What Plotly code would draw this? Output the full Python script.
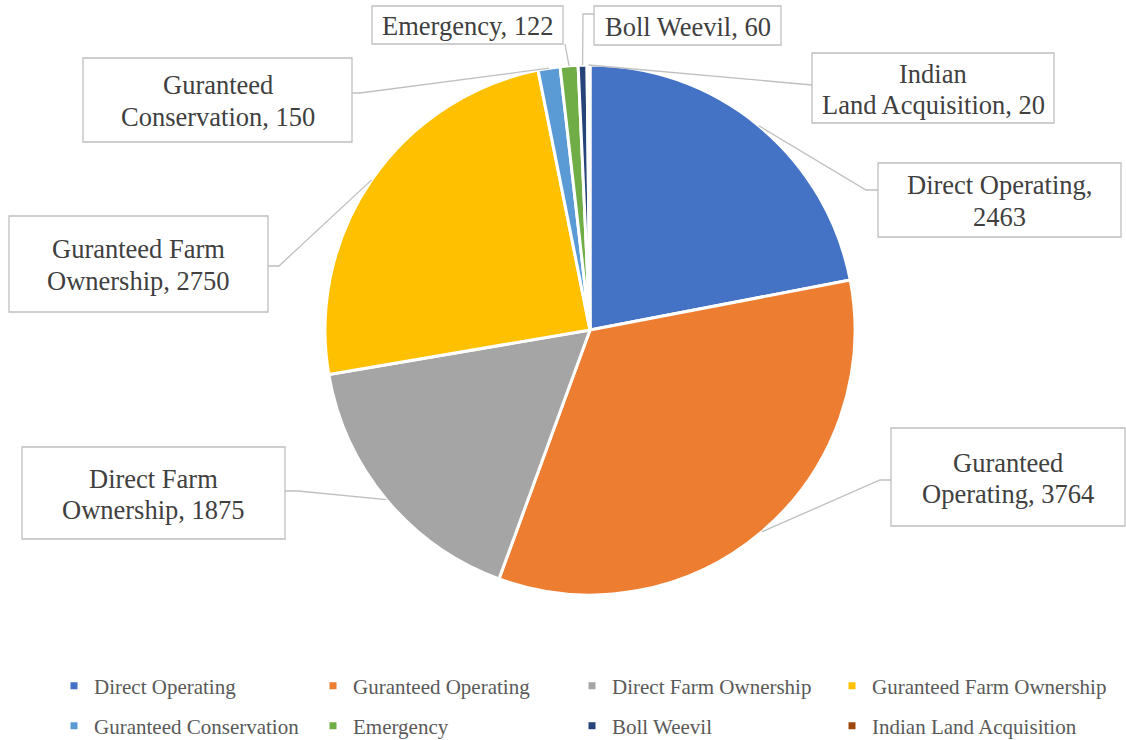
import math
import plotly.graph_objects as go

# ---- data ----
categories = ["Direct Operating", "Guranteed Operating", "Direct Farm Ownership",
              "Guranteed Farm Ownership", "Guranteed Conservation", "Emergency",
              "Boll Weevil", "Indian Land Acquisition"]
values = [2463, 3764, 1875, 2750, 150, 122, 60, 20]
label_lines = [
    ["Direct Operating,", "2463"],
    ["Guranteed", "Operating, 3764"],
    ["Direct Farm", "Ownership, 1875"],
    ["Guranteed Farm", "Ownership, 2750"],
    ["Guranteed", "Conservation, 150"],
    ["Emergency, 122"],
    ["Boll Weevil, 60"],
    ["Indian", "Land Acquisition, 20"],
]
colors = ["#4472C4", "#ED7D31", "#A5A5A5", "#FFC000",
          "#5B9BD5", "#70AD47", "#264478", "#9E480E"]

# ---- layout constants (pixels) ----
W, H = 1126, 740
CX, CY, R = 590, 330, 265
# label boxes: (x0, y0, x1, y1)
boxes = [
    (878, 163, 1121, 237),
    (891, 428, 1125, 526),
    (22, 447, 285, 539),
    (9, 216, 268, 312),
    (83, 58, 352, 142),
    (372, 6, 563, 44),
    (594, 6, 781, 45),
    (812, 53, 1054, 123),
]
# leader line elbow and end points (pixels)
leaders = [
    [(866, 190), (878, 190)],
    [(880, 480), (891, 480)],
    [(298, 491), (285, 491)],
    [(279, 266), (268, 266)],
    [(360, 93), (352, 93)],
    [(565, 44)],
    [(583, 14), (594, 14)],
    [(812, 85)],
]
legend_cols = [94, 353, 612, 872]   # text start x
legend_rows = [686, 726]            # legend box centre y

def px(x):
    return x / W

def py(y):
    return 1 - y / H

fig = go.Figure()
fig.add_trace(go.Pie(
    labels=categories, values=values, sort=False, direction="clockwise",
    rotation=0, textinfo="none", hoverinfo="label+value",
    marker=dict(colors=colors, line=dict(color="white", width=3)),
    domain=dict(x=[px(CX - R), px(CX + R)], y=[py(CY + R), py(CY - R)]),
    showlegend=False,
))

legend_font = dict(family="Liberation Serif, Times New Roman, serif",
                   size=21, color="#595959")
legends = {}
for i, (name, c) in enumerate(zip(categories, colors)):
    lid = "legend" if i == 0 else f"legend{i + 1}"
    fig.add_trace(go.Scatter(
        x=[None], y=[None], mode="markers", name=name,
        marker=dict(symbol="square", size=7, color=c),
        legend=lid, showlegend=True, hoverinfo="skip",
    ))
    legends[lid] = dict(
        orientation="h", x=px(legend_cols[i % 4] - 40), y=py(legend_rows[i // 4]),
        xanchor="left", yanchor="middle", font=legend_font,
        bgcolor="rgba(0,0,0,0)", itemclick=False, itemdoubleclick=False)

shapes = []
annotations = []
total = sum(values)
cum = 0
TEXT_FONT = dict(family="Liberation Serif, Times New Roman, serif", size=26.5, color="#404040")
for i, v in enumerate(values):
    mid = (cum + v / 2) / total * 2 * math.pi
    cum += v
    ax = CX + R * math.sin(mid)
    ay = CY - R * math.cos(mid)
    pts = [(ax, ay)] + leaders[i]
    path = "M " + " L ".join(f"{px(x)},{py(y)}" for x, y in pts)
    shapes.append(dict(type="path", xref="paper", yref="paper", path=path,
                       line=dict(color="#BFBFBF", width=1.3)))
    x0, y0, x1, y1 = boxes[i]
    shapes.append(dict(type="rect", xref="paper", yref="paper",
                       x0=px(x0), x1=px(x1), y0=py(y1), y1=py(y0),
                       line=dict(color="#BFBFBF", width=1.3), fillcolor="white"))
    lines = label_lines[i]
    cy = (y0 + y1) / 2 + 1
    n = len(lines)
    for k, t in enumerate(lines):
        ly = cy + (k - (n - 1) / 2) * 31
        annotations.append(dict(xref="paper", yref="paper", x=px((x0 + x1) / 2),
                                y=py(ly), text=t, showarrow=False,
                                xanchor="center", yanchor="middle", font=TEXT_FONT))

fig.update_layout(
    width=W, height=H,
    margin=dict(l=0, r=0, t=0, b=0, autoexpand=False),
    paper_bgcolor="white", plot_bgcolor="rgba(0,0,0,0)",
    xaxis=dict(visible=False), yaxis=dict(visible=False),
    shapes=shapes, annotations=annotations,
    **legends,
)
fig.write_html("out.html", config={"displayModeBar": False},
               post_script="document.body.style.margin='0';")
